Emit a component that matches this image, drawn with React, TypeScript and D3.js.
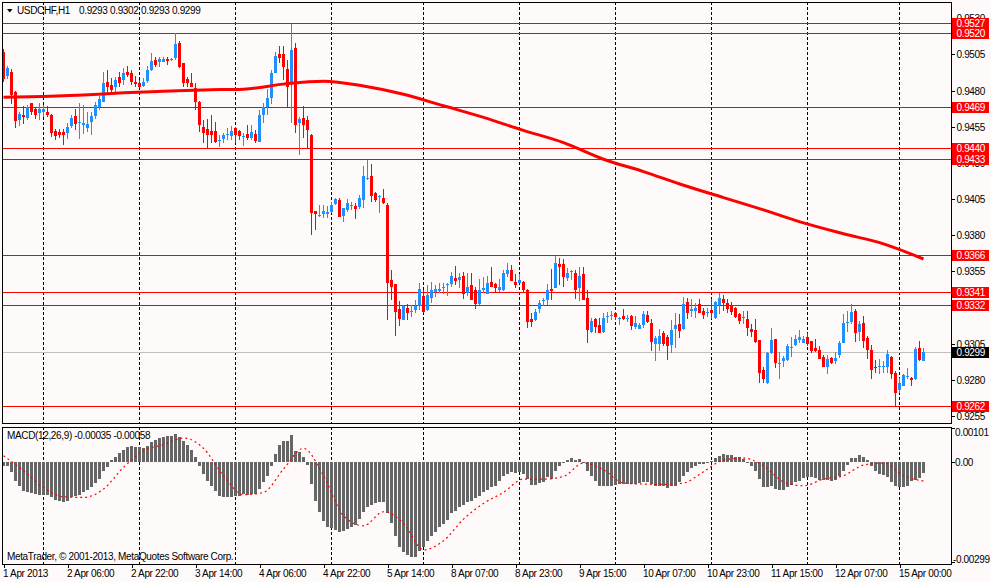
import * as d3 from "d3";
import React from "react";

// prices are in pips (price * 10000)
const opens = [
  9507, 9490, 9493, 9479, 9460, 9463, 9461, 9471.3, 9467.3, 9464.8,
  9465.3, 9465.3, 9463.2, 9452.1, 9451.4, 9451.7, 9451, 9455.6, 9462.5, 9457.5,
  9456.3, 9454, 9458, 9462.5, 9468.5, 9472.4, 9485.8, 9484, 9482.8, 9489.7,
  9487.4, 9493.2, 9492.5, 9486.3, 9485.6, 9483.3, 9486.7, 9494.3, 9501.2, 9499.6,
  9500, 9501.9, 9501.6, 9502.4, 9512.8, 9498.9, 9487.9, 9485.6, 9481.6, 9472.4,
  9455.1, 9453.5, 9452.1, 9452.1, 9445.5, 9446.4, 9449.6, 9448.7, 9454, 9452.1,
  9448.1, 9449.8, 9447.1, 9450, 9444.7, 9463.2, 9468.5, 9474.7, 9492.5, 9505.4,
  9505.4, 9494.8, 9486.3, 9509.3, 9457.9, 9460.9, 9459.7, 9449.3, 9396.8, 9393.5,
  9394.6, 9394.6, 9396.2, 9401.5, 9404.3, 9393.2, 9397.4, 9400.6, 9400.2, 9399.7,
  9404.3, 9419.6, 9420.9, 9409.4, 9407, 9405.5, 9400.8, 9349, 9346.2, 9328.7,
  9321.3, 9329.4, 9327.5, 9328.2, 9331, 9337.9, 9328.2, 9336.3, 9340.4, 9341.6,
  9344.2, 9346.1, 9346.2, 9350.1, 9348.9, 9351.7, 9340.2, 9345.5, 9342, 9332.4,
  9342, 9339.3, 9347.8, 9346.2, 9342, 9342, 9353.1, 9355.9, 9347.8, 9347.1,
  9347.8, 9342, 9322, 9321.3, 9328.7, 9335, 9335.1, 9342.7, 9343.7, 9360.1,
  9360.1, 9350.6, 9355.3, 9354, 9343.2, 9353.1, 9336.3, 9313.2, 9321.8, 9317.8,
  9313.2, 9324.2, 9324.7, 9325.9, 9322.4, 9324, 9322.4, 9324, 9316.5, 9315.4,
  9317.7, 9324.6, 9319.5, 9304.5, 9305, 9312.1, 9309.8, 9303.8, 9314.9, 9318.4,
  9314.9, 9333.8, 9327.6, 9327.6, 9332.2, 9327.6, 9326.8, 9328.3, 9323, 9331.5,
  9335.7, 9333.4, 9331.5, 9329.9, 9325.3, 9323, 9322.3, 9315.4, 9314.2, 9307.3,
  9286.8, 9277.6, 9298.3, 9308, 9291.3, 9293, 9293.7, 9302.6, 9303.8, 9307.5,
  9305.7, 9309.8, 9306.8, 9302.2, 9300.6, 9296, 9289.1, 9295.3, 9293, 9296.9,
  9305.7, 9320, 9320, 9327.6, 9313.1, 9319.1, 9309.1, 9300.6, 9289.1, 9289.4,
  9289.4, 9289.1, 9296, 9284.9, 9272.9, 9275.7, 9282.5, 9281, 9280.3, 9302.2,
  9293,
];
const highs = [
  9509, 9497, 9495, 9480, 9465.5, 9469.4, 9470, 9471.5, 9469, 9471.3,
  9470, 9469.4, 9464, 9453.5, 9453.3, 9453.7, 9457.4, 9463.2, 9467.3, 9471.3,
  9470, 9465.5, 9465.5, 9472.4, 9476.3, 9493.2, 9494.3, 9488.6, 9489.7, 9493.2,
  9495.5, 9497.1, 9494.3, 9490.2, 9487.4, 9488.6, 9497.1, 9505.9, 9503.1, 9503.6,
  9503.6, 9503.6, 9502.4, 9520.2, 9514, 9499, 9489.7, 9492.5, 9485.1, 9473,
  9459.7, 9460.2, 9463.2, 9458.6, 9449.4, 9450.5, 9454, 9455.8, 9454.7, 9452.5,
  9450.5, 9456.3, 9456.3, 9452.8, 9466.7, 9471.3, 9481, 9494.3, 9507, 9510.9,
  9510.9, 9501.2, 9526, 9512.8, 9461.6, 9469.4, 9462.5, 9450, 9397, 9400.8,
  9400.8, 9400.2, 9403.2, 9405.5, 9405.5, 9398.7, 9404.8, 9403.2, 9402, 9407.8,
  9427.8, 9432, 9429.2, 9410.1, 9407.8, 9411.7, 9402, 9355.9, 9346.5, 9334.7,
  9331.7, 9332.4, 9331.7, 9335.1, 9346.7, 9342, 9345.5, 9347.8, 9345.5, 9347.1,
  9346.7, 9347.1, 9354.7, 9358.6, 9354, 9354.7, 9354, 9353.6, 9343.9, 9349.4,
  9351.3, 9351.7, 9358.2, 9347.1, 9349.4, 9355.9, 9360.5, 9359.3, 9353.1, 9353.1,
  9348, 9342.5, 9325.9, 9328.7, 9335.1, 9336.3, 9346.2, 9356.3, 9365.6, 9364,
  9363.3, 9357, 9356, 9355.9, 9358.2, 9358.2, 9342, 9322.5, 9322.5, 9322.5,
  9325.9, 9327.1, 9327.8, 9327.1, 9323.6, 9328.7, 9324.8, 9324.8, 9324, 9319.5,
  9327.6, 9327.6, 9321.8, 9310.3, 9315, 9313.8, 9310.8, 9321.4, 9326, 9325.3,
  9337.5, 9336.8, 9335.7, 9332.9, 9336.1, 9329.9, 9329.9, 9335.7, 9334.5, 9340.3,
  9338.4, 9336.1, 9333.8, 9330.6, 9326.4, 9327.6, 9327.6, 9318.4, 9322.3, 9307.5,
  9289.1, 9299.2, 9316.1, 9308.3, 9299.2, 9296.5, 9304.5, 9309.8, 9310.8, 9314.4,
  9310.3, 9312.1, 9306.9, 9308, 9303.4, 9296.9, 9296.9, 9296, 9299.2, 9306.8,
  9325.3, 9327.6, 9332.2, 9328.7, 9320.7, 9324.1, 9310.3, 9303.8, 9293.7, 9294.2,
  9293, 9300.6, 9296.5, 9286.1, 9281.5, 9283.8, 9288.4, 9282.2, 9302.9, 9306.8,
  9302,
];
const lows = [
  9486, 9488, 9471, 9454, 9455.6, 9456.7, 9460, 9463.2, 9460.2, 9459.7,
  9462, 9461.6, 9447.7, 9445.9, 9447, 9442.4, 9446.6, 9454, 9452.8, 9446.6,
  9450, 9451.7, 9449.4, 9460.2, 9466.7, 9472, 9477, 9477, 9479.3, 9482.3,
  9484, 9489.7, 9484, 9482.3, 9481.6, 9482.3, 9485.1, 9493.6, 9496.6, 9496.6,
  9499.6, 9497.8, 9500.6, 9501.2, 9495.5, 9482.3, 9482.3, 9482.3, 9466.7, 9451.7,
  9443.6, 9440.1, 9443.6, 9443.6, 9440.8, 9443.6, 9445.9, 9445.9, 9444, 9445.9,
  9441.8, 9445.9, 9445.9, 9444, 9444.5, 9457.9, 9463.2, 9470.8, 9492, 9499,
  9487.4, 9468.5, 9457.4, 9450.5, 9435.5, 9447, 9440.1, 9380.2, 9383.6, 9392.8,
  9391.6, 9391.6, 9395.1, 9400.8, 9392.5, 9389.3, 9396.2, 9397.4, 9391.2, 9398.1,
  9398.5, 9418.1, 9403.2, 9403.2, 9395.6, 9401.8, 9321.3, 9335.1, 9310.2, 9317.2,
  9321, 9321.3, 9323.6, 9326.4, 9328.2, 9326.4, 9327.7, 9332.8, 9337.5, 9339.7,
  9339.3, 9337.9, 9344.4, 9345.5, 9343.2, 9335.6, 9337.9, 9334.8, 9328.7, 9332,
  9339.7, 9339, 9343.9, 9339.7, 9340.9, 9341.6, 9351.3, 9348.2, 9343.2, 9346.7,
  9340.9, 9315.5, 9316.7, 9320.8, 9326.4, 9331, 9331.7, 9335.1, 9343.4, 9345.5,
  9344.4, 9348.5, 9349, 9335.6, 9334.7, 9334.8, 9305.6, 9312.5, 9312.5, 9312,
  9312.5, 9319.4, 9321.3, 9321.3, 9317.8, 9321.3, 9320.1, 9314.4, 9315, 9314.9,
  9316.1, 9319.5, 9299.9, 9293, 9300, 9303.4, 9293.7, 9298.3, 9302.2, 9309.1,
  9314.6, 9322.3, 9323.7, 9323, 9326, 9322.3, 9323.7, 9322.3, 9322.3, 9325.3,
  9327.6, 9326.4, 9324.6, 9323, 9318.4, 9318.4, 9310.3, 9309.8, 9305.7, 9277.6,
  9277.6, 9276.9, 9298, 9288.4, 9280.3, 9289.1, 9293, 9296, 9303.4, 9305.2,
  9305.2, 9303.4, 9298.8, 9299.2, 9294.2, 9288.6, 9283.8, 9290.7, 9290.7, 9295.3,
  9305.2, 9313.1, 9318.4, 9306.1, 9306.8, 9302.2, 9294.2, 9280.8, 9284.5, 9283.8,
  9284.5, 9284.5, 9280.8, 9261.9, 9271.1, 9275.3, 9280.3, 9275.7, 9279.9, 9293,
  9293,
];
const closes = [
  9488, 9496, 9477, 9459, 9464, 9461.6, 9469, 9465.5, 9463.2, 9467.1,
  9467.6, 9463.2, 9450.5, 9448.7, 9449.4, 9449.4, 9455.1, 9461.4, 9456.7, 9458,
  9457.4, 9456.7, 9462.7, 9470.1, 9474.3, 9485.6, 9482.3, 9480.5, 9487.4, 9485.6,
  9492.5, 9490.9, 9486.3, 9484.6, 9482.8, 9486.3, 9494.3, 9500.6, 9497.8, 9501.9,
  9501.7, 9500.6, 9501.8, 9512.3, 9496.6, 9485.1, 9485.6, 9482.8, 9472.4, 9456.3,
  9451, 9449.4, 9449.4, 9444.7, 9445.9, 9449.4, 9449.9, 9452.1, 9449.4, 9448.7,
  9448.3, 9447.1, 9451.7, 9445.4, 9463.2, 9468.5, 9474.7, 9492, 9504, 9502.4,
  9496.2, 9482.3, 9508.2, 9456.3, 9460.4, 9456.3, 9452.8, 9395.2, 9394.7, 9394,
  9396.7, 9396.2, 9400.8, 9404.8, 9392.8, 9398.5, 9402.5, 9400.8, 9398.1, 9405.5,
  9420.9, 9419.8, 9407.1, 9404.3, 9407.2, 9402, 9347.1, 9344.4, 9327.1, 9321.8,
  9331, 9325.9, 9327.7, 9331, 9342.5, 9327.1, 9338.6, 9342, 9342.5, 9342.4,
  9344.4, 9346.3, 9351.7, 9348.5, 9351.3, 9339.3, 9344.4, 9335.1, 9332.4, 9342,
  9343.2, 9347.1, 9344.4, 9343.7, 9344.4, 9354, 9355.9, 9348.5, 9345.5, 9349,
  9342, 9320.1, 9320.1, 9327.1, 9333.3, 9335.2, 9342, 9341.6, 9360.5, 9357.7,
  9350.8, 9354, 9355.5, 9342, 9351.7, 9335.1, 9314.4, 9320.8, 9316.7, 9312.5,
  9322.5, 9324.4, 9324.9, 9323.6, 9322.6, 9321.8, 9322.6, 9317.1, 9319, 9317.7,
  9325.3, 9320, 9306.1, 9309.1, 9310, 9304.5, 9303.4, 9314.2, 9317.7, 9313.8,
  9332.2, 9326.4, 9329.2, 9329.4, 9326.4, 9324.6, 9327, 9326.4, 9333.8, 9336.8,
  9333.4, 9328.7, 9327.1, 9323.7, 9320.7, 9323.2, 9316.1, 9313.1, 9306.1, 9284.5,
  9280.3, 9298.3, 9307.5, 9291.4, 9291.5, 9295.3, 9303.4, 9302.8, 9308.4, 9309.8,
  9308, 9304.5, 9299.9, 9299.9, 9294.6, 9288.9, 9294.6, 9291.4, 9295.3, 9305.2,
  9319.1, 9320.2, 9327.1, 9312.1, 9318.4, 9306.8, 9300.6, 9286.8, 9287.9, 9289.6,
  9289.6, 9297.6, 9283.8, 9270.6, 9277.6, 9283.1, 9282.7, 9279.9, 9301, 9293.7,
  9299,
];

// moving average, read every 10 bars
const maBars = [0, 10, 20, 30, 40, 50, 60, 70, 80, 90, 100, 110, 120, 130, 140, 150, 160, 170, 180, 190, 200, 210, 220, 230];
const maValues = [
  9475.5, 9476, 9477, 9478.5, 9479.5, 9480.5, 9481, 9484.5, 9486.5, 9483.2, 9477.5, 9469.5,
  9461.5, 9452.5, 9444, 9432.5, 9424, 9414.5, 9406, 9397.5, 9388.5, 9381, 9374, 9363.5,
];

// MACD main (histogram) in units of 0.00001
const macdMain = [
  -12, -14, -30, -57, -74, -87, -90, -95, -97, -99,
  -99, -99, -107, -114, -119, -122, -117, -107, -102, -99,
  -92, -84, -77, -64, -52, -27, -17, 5, 15, 25,
  36, 43, 48, 45, 43, 41, 48, 60, 66, 71,
  73, 76, 78, 83, 75, 63, 50, 36, 13, -12,
  -37, -57, -74, -87, -102, -105, -107, -105, -104, -102,
  -97, -100, -97, -97, -82, -62, -42, -12, 23, 50,
  63, 63, 81, 33, 28, 15, -9, -67, -117, -150,
  -177, -197, -199, -205, -210, -207, -202, -197, -190, -172,
  -150, -137, -130, -124, -120, -122, -154, -185, -222, -257,
  -272, -279, -285, -287, -267, -257, -237, -222, -210, -197,
  -187, -174, -154, -147, -137, -130, -120, -117, -110, -102,
  -92, -84, -77, -72, -57, -44, -37, -32, -35, -32,
  -37, -52, -70, -70, -64, -60, -47, -52, -27, -12,
  -4, 6, 11, 5, 8, -4, -27, -42, -57, -72,
  -72, -72, -72, -70, -67, -67, -67, -67, -67, -64,
  -62, -60, -67, -72, -74, -74, -80, -74, -72, -62,
  -44, -32, -20, -12, -8, -6, -4, 1, 10, 18,
  23, 21, 20, 15, 13, 8, -4, -12, -27, -52,
  -77, -77, -72, -82, -85, -85, -77, -70, -62, -57,
  -50, -47, -47, -50, -54, -55, -54, -57, -54, -42,
  -27, -10, 11, 11, 20, 15, 6, -12, -27, -37,
  -40, -47, -62, -72, -75, -75, -74, -57, -54, -50,
  -35,
];

// MACD signal, read every 5 bars
const signalBars = d3.range(0, 231, 5);
const signalValues = [
  18, -27, -77, -105, -107, -82, -17, 33, 51, 71,
  40, -42, -99, -92, -22, 40, -42, -162, -192, -150,
  -184, -264, -237, -172, -125, -92, -52, -52, -44, -4,
  -24, -64, -67, -68, -64, -30, 5, 11, -12, -60,
  -72, -52, -42, -10, -4, -42, -58,
];

const priceTicks = [9530, 9505, 9480, 9455, 9430, 9405, 9380, 9355, 9330, 9305, 9280, 9255];
const levels = [9527, 9520, 9469, 9440, 9433, 9366, 9341, 9332, 9262];
const bid = 9299;
const titleQuotes = ["0.9293", "0.9302", "0.9293", "0.9299"];

const timeLabels = [
  "1 Apr 2013", "2 Apr 06:00", "2 Apr 22:00", "3 Apr 14:00", "4 Apr 06:00",
  "4 Apr 22:00", "5 Apr 14:00", "8 Apr 07:00", "8 Apr 23:00", "9 Apr 15:00",
  "10 Apr 07:00", "10 Apr 23:00", "11 Apr 15:00", "12 Apr 07:00", "15 Apr 00:00",
];
const dayStartBars = [10, 34, 58, 82, 105, 129, 153, 177, 201, 224];

const macdTicks = [
  { v: 101, label: "0.00101", dy: 7.5 },
  { v: 0, label: "0.00", dy: 3.5 },
  { v: -299, label: "-0.00299", dy: 0 },
];

const BG = "#FFFAFA";
const BULL = "#1E90FF";
const BEAR = "#FF0000";
const FONT = { fontFamily: "'Liberation Sans', Arial, sans-serif", fontSize: 10, letterSpacing: -0.35 };

const App: React.FC = () => {
  const W = 991;
  const H = 582;
  const left = 2;
  const right = 951;
  const mainTop = 2;
  const mainBottom = 423;
  const macdTop = 427;
  const macdBottom = 564;

  const x = d3.scaleLinear().domain([0, 230]).range([3.5, 923.5]);
  const y = d3.scaleLinear().domain([9527, 9262]).range([22.7, 405.7]);
  const my = d3.scaleLinear().domain([101, -299]).range([428, 561.5]);

  const maLine = d3
    .line<number>()
    .x((d) => x(maBars[d]))
    .y((d) => y(maValues[d]))
    .curve(d3.curveMonotoneX);

  const sigLine = d3
    .line<number>()
    .x((d) => x(signalBars[d]))
    .y((d) => my(signalValues[d]))
    .curve(d3.curveMonotoneX);

  const bars = d3.range(opens.length);

  // a tick label is drawn only if a level box would not cover all of it
  const covered = (t: number) =>
    [...levels, bid].some((lv) => Math.abs(y(lv) - y(t)) < 3);

  return (
    <svg
      width={W}
      height={H}
      style={{ position: "fixed", left: 0, top: 0, background: BG }}
    >
      <defs>
        <clipPath id="mainClip">
          <rect x={left} y={mainTop} width={right - left} height={mainBottom - mainTop} />
        </clipPath>
        <clipPath id="macdClip">
          <rect x={left} y={macdTop} width={right - left} height={macdBottom - macdTop} />
        </clipPath>
      </defs>
      <rect x={0} y={0} width={W} height={H} fill={BG} />

      {/* day separators */}
      <g stroke="#000" strokeDasharray="3,2" shapeRendering="crispEdges">
        {dayStartBars.map((b) => (
          <g key={b}>
            <line x1={x(b)} x2={x(b)} y1={mainTop} y2={mainBottom} />
            <line x1={x(b)} x2={x(b)} y1={macdTop} y2={macdBottom} />
          </g>
        ))}
      </g>

      {/* main panel */}
      <g clipPath="url(#mainClip)">
        {levels.map((lv) => (
          <line key={lv} x1={left} x2={right} y1={Math.round(y(lv)) + 0.5} y2={Math.round(y(lv)) + 0.5} stroke={BEAR} shapeRendering="crispEdges" />
        ))}
        <line x1={left} x2={right} y1={Math.round(y(bid)) + 0.5} y2={Math.round(y(bid)) + 0.5} stroke="#C0C0C0" shapeRendering="crispEdges" />

        <g shapeRendering="crispEdges">
          {bars.map((i) => {
            const o = opens[i];
            const c = closes[i];
            const col = c >= o ? BULL : BEAR;
            const top = y(Math.max(o, c));
            const h = Math.max(1, y(Math.min(o, c)) - top);
            return (
              <g key={i}>
                <line x1={x(i)} x2={x(i)} y1={y(highs[i])} y2={y(lows[i])} stroke={col} />
                <rect x={x(i) - 1.5} y={top} width={3} height={h} fill={col} />
              </g>
            );
          })}
        </g>

        <path
          d={maLine(d3.range(maBars.length)) || ""}
          fill="none"
          stroke={BEAR}
          strokeWidth={3}
          strokeLinejoin="round"
        />
      </g>

      {/* MACD panel */}
      <g clipPath="url(#macdClip)">
        <g fill="#666666" shapeRendering="crispEdges">
          {macdMain.map((v, i) => {
            const y0 = my(0);
            const y1 = my(v);
            return (
              <rect
                key={i}
                x={x(i) - 1.5}
                y={Math.min(y0, y1)}
                width={3}
                height={Math.max(1, Math.abs(y1 - y0))}
              />
            );
          })}
        </g>
        <path
          d={sigLine(d3.range(signalBars.length)) || ""}
          fill="none"
          stroke={BEAR}
          strokeWidth={1.2}
          strokeDasharray="2,3"
        />
      </g>

      {/* frames */}
      <g fill="none" stroke="#000" shapeRendering="crispEdges">
        <rect x={left + 0.5} y={mainTop + 0.5} width={right - left} height={mainBottom - mainTop} />
        <rect x={left + 0.5} y={macdTop + 0.5} width={right - left} height={macdBottom - macdTop} />
      </g>

      {/* price axis */}
      <g {...FONT} fill="#000">
        {priceTicks.map((t) => {
          const ty = Math.round(y(t)) + 0.5;
          if (ty < mainTop + 8 || ty > mainBottom) return null;
          return (
            <g key={t}>
              <line x1={right} x2={right + 4} y1={ty} y2={ty} stroke="#000" shapeRendering="crispEdges" />
              {!covered(t) && (
                <text x={right + 5.5} y={ty + 3.5}>{(t / 10000).toFixed(4)}</text>
              )}
            </g>
          );
        })}
      </g>

      {/* level labels */}
      <g {...FONT}>
        {levels.map((lv) => {
          const ly = Math.round(y(lv));
          return (
            <g key={lv}>
              <rect x={right + 1} y={ly - 5} width={37} height={11} fill={BEAR} />
              <text x={right + 5.5} y={ly + 4} fill="#fff">{(lv / 10000).toFixed(4)}</text>
            </g>
          );
        })}
        <rect x={right + 1} y={Math.round(y(bid)) - 5} width={37} height={11} fill="#000" />
        <text x={right + 5.5} y={Math.round(y(bid)) + 4} fill="#fff">{(bid / 10000).toFixed(4)}</text>
      </g>

      {/* MACD axis */}
      <g {...FONT} fill="#000">
        {macdTicks.map((t) => {
          const ty = Math.round(my(t.v)) + 0.5;
          return (
            <g key={t.label}>
              <line x1={right} x2={right + 4} y1={ty} y2={ty} stroke="#000" shapeRendering="crispEdges" />
              <text x={t.v < 0 ? right + 2 : right + 4} y={ty + t.dy}>{t.label}</text>
            </g>
          );
        })}
      </g>

      {/* time axis */}
      <g {...FONT} fill="#000">
        {timeLabels.map((lab, k) => {
          const tx = Math.round(x(k * 16)) + 0.5;
          return (
            <g key={lab}>
              <line x1={tx} x2={tx} y1={macdBottom} y2={macdBottom + 4} stroke="#000" shapeRendering="crispEdges" />
              <text x={tx - 1.5} y={577}>{lab}</text>
            </g>
          );
        })}
      </g>

      {/* titles */}
      <polygon points="7,9 12.5,9 9.75,12.5" fill="#000" />
      <g {...FONT} fill="#000">
        <text x={17} y={14}>USDCHF,H1</text>
        {titleQuotes.map((q, k) => (
          <text key={k} x={79 + k * 31} y={14}>{q}</text>
        ))}
        <text x={7} y={439}>MACD(12,26,9) -0.00035 -0.00058</text>
        <text x={7} y={560}>MetaTrader, © 2001-2013, MetaQuotes Software Corp.</text>
      </g>
    </svg>
  );
};

export default App;
